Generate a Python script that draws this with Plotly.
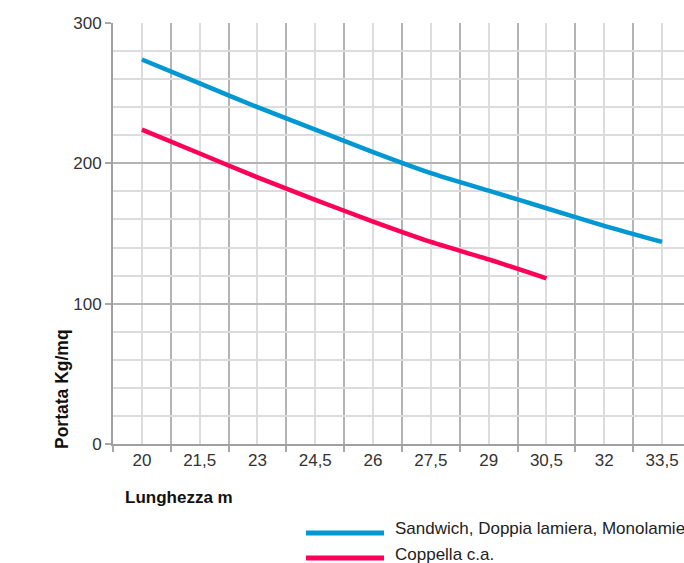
import plotly.graph_objects as go

# Data
lengths_blue = [20, 21.5, 23, 24.5, 26, 27.5, 29, 30.5, 32, 33.5]
portata_blue = [274, 257, 240, 224, 208, 193, 180.5, 168, 155.5, 144]
lengths_red = [20, 21.5, 23, 24.5, 26, 27.5, 29, 30.5]
portata_red = [224, 207, 190, 174, 158.5, 144, 131.5, 118]

x_tickvals = [20, 21.5, 23, 24.5, 26, 27.5, 29, 30.5, 32, 33.5]
x_ticktext = ["20", "21,5", "23", "24,5", "26", "27,5", "29", "30,5", "32", "33,5"]
y_tickvals = [0, 100, 200, 300]

name_blue = "Sandwich, Doppia lamiera, Monolamiera"
name_red = "Coppella c.a."

BLUE = "#0098D2"
RED = "#FF0058"
FONT = "Liberation Sans, Arial, sans-serif"

fig = go.Figure()
fig.add_trace(go.Scatter(x=lengths_blue, y=portata_blue, mode="lines", name=name_blue,
                         line=dict(color=BLUE, width=4.5, shape="spline", smoothing=0.6),
                         showlegend=False))
fig.add_trace(go.Scatter(x=lengths_red, y=portata_red, mode="lines", name=name_red,
                         line=dict(color=RED, width=4.5, shape="spline", smoothing=0.6),
                         showlegend=False))

fig.update_xaxes(
    range=[19.25, 34.07],
    tickmode="array", tickvals=x_tickvals, ticktext=x_ticktext,
    ticks="", showgrid=True, gridcolor="#dcdcdc", gridwidth=1.5,
    minor=dict(tick0=19.25, dtick=1.5, ticks="outside", ticklen=6, tickcolor="#a8a8a8",
               tickwidth=1.5, showgrid=True, gridcolor="#b4b4b4", gridwidth=1.5),
    showline=True, linecolor="#a0a0a0", linewidth=2,
    tickfont=dict(family=FONT, size=17, color="#333333"),
    zeroline=False, fixedrange=True,
)
fig.update_yaxes(
    range=[0, 300],
    tickmode="array", tickvals=y_tickvals,
    ticks="outside", ticklen=6, tickcolor="#a8a8a8", tickwidth=1.5,
    showgrid=True, gridcolor="#b4b4b4", gridwidth=1.5,
    minor=dict(dtick=20, showgrid=True, gridcolor="#dcdcdc", gridwidth=1.5, ticks=""),
    showline=True, linecolor="#a0a0a0", linewidth=2,
    tickfont=dict(family=FONT, size=17, color="#333333"),
    zeroline=False, fixedrange=True,
)

W, H = 684, 563
L, R, T, B = 113, 0, 23, 119
pw, ph = W - L - R, H - T - B

def px(xp):
    return (xp - L) / pw

def py(yp):
    return (H - B - yp) / ph

annotations = [
    dict(text="<b>Lunghezza m</b>", x=px(123), y=py(497), xref="paper", yref="paper",
         xanchor="left", yanchor="middle", showarrow=False,
         font=dict(family=FONT, size=17, color="#111111")),
    dict(text="<b>Portata Kg/mq</b>", x=px(62), y=py(389), xref="paper", yref="paper",
         xanchor="center", yanchor="middle", showarrow=False, textangle=-90,
         font=dict(family=FONT, size=17.5, color="#111111")),
    dict(text=name_blue, x=px(393), y=py(528), xref="paper", yref="paper",
         xanchor="left", yanchor="middle", showarrow=False,
         font=dict(family=FONT, size=17, color="#222222")),
    dict(text=name_red, x=px(393), y=py(554), xref="paper", yref="paper",
         xanchor="left", yanchor="middle", showarrow=False,
         font=dict(family=FONT, size=17, color="#222222")),
]
shapes = [
    dict(type="line", xref="paper", yref="paper", x0=px(306), x1=px(384), y0=py(533), y1=py(533),
         line=dict(color=BLUE, width=5)),
    dict(type="line", xref="paper", yref="paper", x0=px(306), x1=px(384), y0=py(558), y1=py(558),
         line=dict(color=RED, width=5)),
]

fig.update_layout(
    width=W, height=H,
    margin=dict(l=L, r=R, t=T, b=B, pad=0),
    plot_bgcolor="white", paper_bgcolor="white",
    annotations=annotations, shapes=shapes,
    showlegend=False,
)

fig.write_html("out.html", config={"displayModeBar": False},
               post_script="document.body.style.margin='0';document.body.style.overflow='hidden';")
